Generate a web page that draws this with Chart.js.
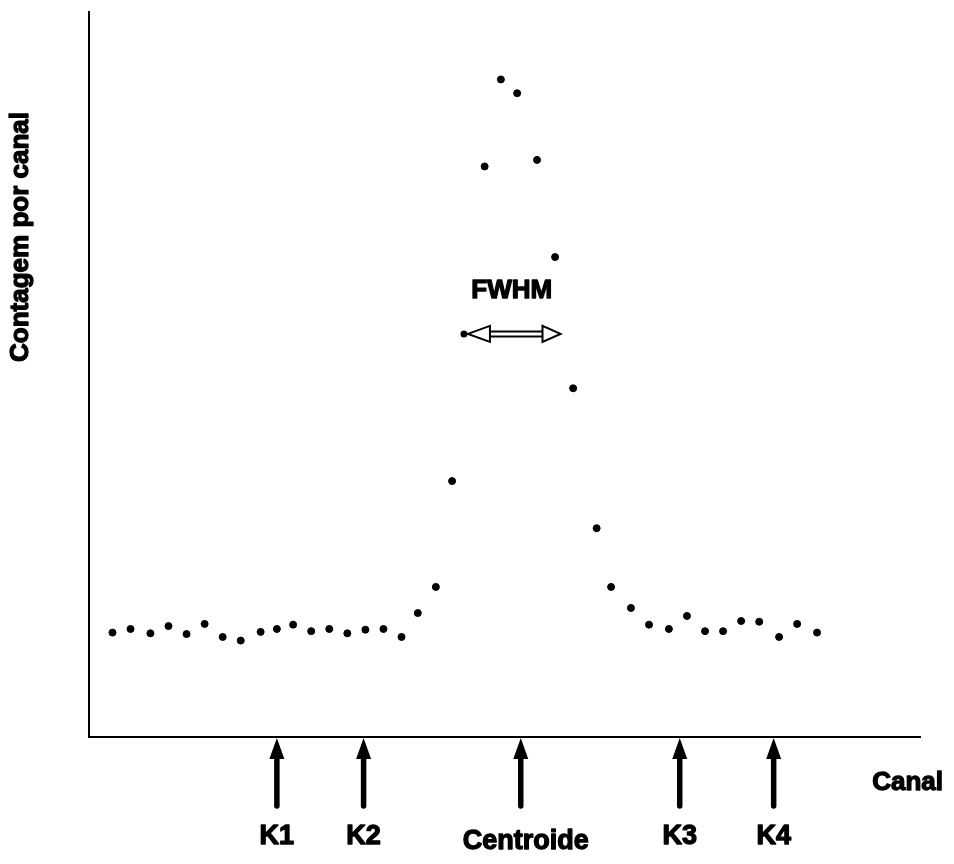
<!DOCTYPE html>
<html>
<head>
<meta charset="utf-8">
<script src="https://cdn.jsdelivr.net/npm/chart.js@4.4.1/dist/chart.umd.min.js"></script>
<style>
  html, body { margin: 0; padding: 0; background: #fff; }
  #wrap { width: 954px; height: 864px; }
</style>
</head>
<body>
<div id="wrap"><canvas id="c" width="954" height="864"></canvas></div>
<script>
// ---- data ----
const channels = [1.3, 2.3, 3.4, 4.4, 5.4, 6.4, 7.4, 8.4, 9.5, 10.4, 11.3, 12.3, 13.3, 14.3, 15.3, 16.3, 17.3, 18.2, 19.2, 20.1,
                  21.9, 22.8, 23.7, 24.8, 25.8, 26.8, 28.1, 28.9, 30.0, 31.0, 32.1, 33.1, 34.1, 35.1, 36.1, 37.1, 38.2, 39.2, 40.3];
const counts = [144, 149, 143, 153, 142, 156, 138, 133, 145, 149, 155, 146, 149, 143, 148, 149, 138, 171, 207, 353,
                787, 907, 888, 796, 662, 481, 288, 207, 178, 155, 149, 167, 146, 146, 160, 159, 138, 156, 144];
const markerLabels = ['K1', 'K2', 'Centroide', 'K3', 'K4'];
const markerChannels = [10.4, 15.2, 23.9, 32.7, 37.9];
const fwhmLabel = 'FWHM';
const fwhmFrom = 20.7;
const fwhmTo = 26.1;
const fwhmLevel = 556;
const fwhmTextLevel = 616;
const xTitle = 'Canal';
const yTitle = 'Contagem por canal';

const points = channels.map((c, i) => ({ x: c, y: counts[i] }));
const FONT = '"Liberation Sans", Arial, sans-serif';

function heavyText(ctx, text, x, y) {
  ctx.lineWidth = 1.3;
  ctx.lineJoin = 'round';
  ctx.strokeText(text, x, y);
  ctx.fillText(text, x, y);
}

const annotate = {
  id: 'annotate',
  afterDraw(chart) {
    const ctx = chart.ctx;
    const xs = chart.scales.x, ys = chart.scales.y;
    const area = chart.chartArea;
    const base = ys.getPixelForValue(0);
    ctx.save();
    ctx.fillStyle = '#000';
    ctx.strokeStyle = '#000';
    // marker arrows + labels
    markerLabels.forEach((lab, i) => {
      const x = xs.getPixelForValue(markerChannels[i]);
      ctx.beginPath();
      ctx.moveTo(x, base + 1);
      ctx.lineTo(x - 7.5, base + 22);
      ctx.lineTo(x + 7.5, base + 22);
      ctx.closePath();
      ctx.fill();
      ctx.lineCap = 'round';
      ctx.lineWidth = 5.5;
      ctx.beginPath();
      ctx.moveTo(x, base + 18);
      ctx.lineTo(x, base + 69);
      ctx.stroke();
      ctx.font = 'bold 27px ' + FONT;
      ctx.textAlign = 'center';
      ctx.textBaseline = 'middle';
      const dy = lab === 'Centroide' ? 105 : 100;
      heavyText(ctx, lab, x + (lab === 'Centroide' ? 5 : 0), base + dy);
    });
    // x title
    ctx.font = 'bold 26px ' + FONT;
    ctx.textAlign = 'right';
    ctx.textBaseline = 'middle';
    heavyText(ctx, xTitle, area.right + 23, base + 46);
    // y title
    ctx.save();
    ctx.translate(area.left - 68, area.top + 225);
    ctx.rotate(-Math.PI / 2);
    ctx.textAlign = 'center';
    ctx.textBaseline = 'middle';
    ctx.font = 'bold 26px ' + FONT;
    heavyText(ctx, yTitle, 0, 0);
    ctx.restore();
    // FWHM label
    ctx.font = 'bold 26px ' + FONT;
    ctx.textAlign = 'center';
    ctx.textBaseline = 'middle';
    heavyText(ctx, fwhmLabel, xs.getPixelForValue((fwhmFrom + fwhmTo) / 2), ys.getPixelForValue(fwhmTextLevel));
    // FWHM double arrow
    const x1 = xs.getPixelForValue(fwhmFrom), x2 = xs.getPixelForValue(fwhmTo);
    const y = ys.getPixelForValue(fwhmLevel);
    ctx.beginPath();
    ctx.arc(x1 + 1, y, 3.5, 0, Math.PI * 2);
    ctx.fill();
    ctx.lineWidth = 2;
    ctx.lineCap = 'butt';
    ctx.lineJoin = 'miter';
    ctx.beginPath();
    ctx.moveTo(x1 + 27, y - 2.5); ctx.lineTo(x2 - 18, y - 2.5);
    ctx.moveTo(x1 + 27, y + 2.5); ctx.lineTo(x2 - 18, y + 2.5);
    ctx.stroke();
    ctx.fillStyle = '#fff';
    ctx.beginPath();
    ctx.moveTo(x1 + 5, y);
    ctx.lineTo(x1 + 27, y - 8);
    ctx.lineTo(x1 + 27, y + 8);
    ctx.closePath();
    ctx.fill(); ctx.stroke();
    ctx.beginPath();
    ctx.moveTo(x2, y);
    ctx.lineTo(x2 - 18, y - 8);
    ctx.lineTo(x2 - 18, y + 8);
    ctx.closePath();
    ctx.fill(); ctx.stroke();
    ctx.restore();
  }
};

new Chart(document.getElementById('c'), {
  type: 'scatter',
  data: {
    datasets: [{
      data: points,
      backgroundColor: '#000',
      borderColor: '#000',
      pointRadius: 3.5,
      pointHoverRadius: 3.5,
      showLine: false
    }]
  },
  options: {
    responsive: false,
    animation: false,
    events: [],
    layout: { padding: { left: 89, right: 34, top: 12, bottom: 127 } },
    plugins: { legend: { display: false }, tooltip: { enabled: false } },
    scales: {
      x: {
        type: 'linear', min: 0, max: 46,
        ticks: { display: false },
        grid: { display: false, drawTicks: false },
        border: { display: true, color: '#000', width: 2 }
      },
      y: {
        type: 'linear', min: 0, max: 1000,
        ticks: { display: false },
        grid: { display: false, drawTicks: false },
        border: { display: true, color: '#000', width: 2 }
      }
    }
  },
  plugins: [annotate]
});
</script>
</body>
</html>
